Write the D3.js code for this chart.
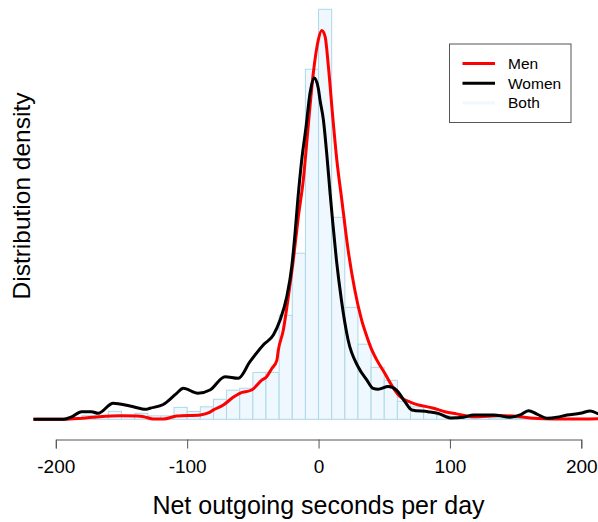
<!DOCTYPE html>
<html><head><meta charset="utf-8">
<script src="https://cdn.jsdelivr.net/npm/d3@7"></script>
<style>html,body{margin:0;padding:0;background:#fff}svg{display:block}</style>
</head><body>
<svg id="chart" width="598" height="522"></svg>
<script>
// Histogram bins (left edges, width 10), density in units of 1e-3
const binStarts = [-200,-190,-180,-170,-160,-150,-140,-130,-120,-110,-100,-90,-80,-70,-60,-50,-40,-30,-20,-10,0,10,20,30,40,50,60,70,80,90,100,110,120,130,140,150,160,170,180,190];
const bothDensity = [0,0.06,0.22,0.17,0.44,0.22,0.33,0.19,0.19,0.66,0.43,0.69,1.11,1.61,1.72,2.60,2.60,5.76,9.20,19.39,22.71,11.19,6.20,4.16,2.88,2.16,1.00,0.69,0.42,0.22,0.14,0.08,0.11,0.08,0.08,0.06,0.08,0.06,0.03,0.06];

// Density curve for men
const menX = [-217,-194,-180,-169,-151,-138,-133,-126,-118,-108,-90,-84,-80,-72.5,-65,-60,-51,-43,-39.5,-35.7,-31.8,-30.6,-26.8,-23,-19.2,-15.4,-11.6,-7.8,-4,-0.2,2.4,5,7.5,10.8,13.9,17.7,22.5,27.6,32.6,36.7,40.2,44.3,50.4,56,62.1,70.7,87.5,96.2,105,117.9,138.3,153.5,163.7,178.9,201.8,213];
const menY = [0,0,0.06,0.13,0.20,0.18,0.14,0.02,0.02,0.18,0.24,0.35,0.52,0.79,1.22,1.44,1.62,2.18,2.36,2.80,3.25,3.84,4.95,6.79,8.83,11.22,13.26,16.30,19.17,21.01,21.53,21.20,19.53,16.76,14.37,12.15,9.38,7.16,5.55,4.60,3.90,3.29,2.55,1.84,1.25,0.93,0.61,0.42,0.30,0.14,0.21,0.14,0.06,0.02,0.02,0.03];

// Density curve for women
const womenX = [-217,-194,-188,-180.4,-172.8,-167.8,-156.3,-143.6,-130.9,-128.4,-118.2,-108,-103,-91.8,-82.7,-71.2,-61.1,-52.2,-42.1,-34.4,-29.3,-24.2,-20.4,-17.9,-15.8,-12.8,-9.5,-6.5,-3.2,-0.2,1.1,3.7,6.2,8.8,11,13.6,17.4,22.5,30.1,36.7,41.5,45.3,53,59.3,65.7,71,83.4,91,101.2,110.3,117.9,133.2,145.9,153.5,159.8,166.2,173.9,181.5,189.1,199.2,206.9,213];
const womenY = [0,0,0.13,0.42,0.42,0.33,0.89,0.74,0.55,0.61,0.82,1.44,1.72,1.44,1.62,2.36,2.27,3.19,4.12,4.67,5.50,6.79,8.45,10.30,12.15,14.37,16.21,18.06,18.91,18.34,17.69,16.58,14.74,12.52,10.76,8.83,6.61,4.39,2.91,2.18,1.71,1.66,1.81,1.62,0.98,0.52,0.42,0.33,0.07,0.11,0.24,0.24,0.11,0.24,0.48,0.29,0.06,0.11,0.24,0.33,0.46,0.29];

const xTicks = [-200,-100,0,100,200];
const legendLabels = ["Men","Women","Both"];
const legendColors = ["#ff0000","#000000","#f0f8ff"];

const svg = d3.select("#chart");
const x = d3.scaleLinear().domain([-200,200]).range([55.8,581.3]);
const y = d3.scaleLinear().domain([0,22.71]).range([419.3,9.3]);

// Histogram
svg.append("g").selectAll("rect").data(binStarts).join("rect")
  .attr("x", d => x(d))
  .attr("width", d => x(d+10) - x(d))
  .attr("y", (d,i) => y(bothDensity[i]))
  .attr("height", (d,i) => y(0) - y(bothDensity[i]))
  .attr("fill", "#f0f8ff")
  .attr("stroke", "#add8e6")
  .attr("stroke-width", 1);

const line = d3.line().x(d => x(d[0])).y(d => y(d[1])).curve(d3.curveMonotoneX);
svg.append("path").datum(menX.map((v,i)=>[v,menY[i]]))
  .attr("d", line).attr("fill","none").attr("stroke","#ff0000").attr("stroke-width",3).attr("stroke-linejoin","round");
svg.append("path").datum(womenX.map((v,i)=>[v,womenY[i]]))
  .attr("d", line).attr("fill","none").attr("stroke","#000000").attr("stroke-width",3).attr("stroke-linejoin","round");

// X axis (R style)
const ax = svg.append("g").attr("transform","translate(0,439.5)")
  .call(d3.axisBottom(x).tickValues(xTicks).tickSize(9).tickPadding(6).tickFormat(d3.format("d")));
ax.select(".domain").attr("stroke","#555");
ax.selectAll(".tick line").attr("stroke","#555");
ax.selectAll(".tick text").attr("font-family","Liberation Sans, Arial, sans-serif").attr("font-size",19).attr("fill","#000").attr("dy","0.95em");
ax.selectAll(".tick text").text(d => d < 0 ? "-" + Math.abs(d) : d);

svg.append("text").attr("x",318.5).attr("y",514).attr("text-anchor","middle")
  .attr("font-family","Liberation Sans, Arial, sans-serif").attr("font-size",25).attr("fill","#000")
  .text("Net outgoing seconds per day");
svg.append("text").attr("transform","translate(30,196) rotate(-90)").attr("text-anchor","middle")
  .attr("font-family","Liberation Sans, Arial, sans-serif").attr("font-size",24.5).attr("fill","#000")
  .text("Distribution density");

// Legend
const lg = svg.append("g");
lg.append("rect").attr("x",449.5).attr("y",44).attr("width",121.5).attr("height",78.5)
  .attr("fill","#fff").attr("stroke","#555").attr("stroke-width",1);
legendLabels.forEach((lab,i) => {
  const yy = 63.5 + i*19.7;
  lg.append("line").attr("x1",462.5).attr("x2",495).attr("y1",yy).attr("y2",yy)
    .attr("stroke",legendColors[i]).attr("stroke-width",3);
  lg.append("text").attr("x",508).attr("y",yy+5.5)
    .attr("font-family","Liberation Sans, Arial, sans-serif").attr("font-size",15.5).attr("fill","#000")
    .text(lab);
});
</script>
</body></html>
